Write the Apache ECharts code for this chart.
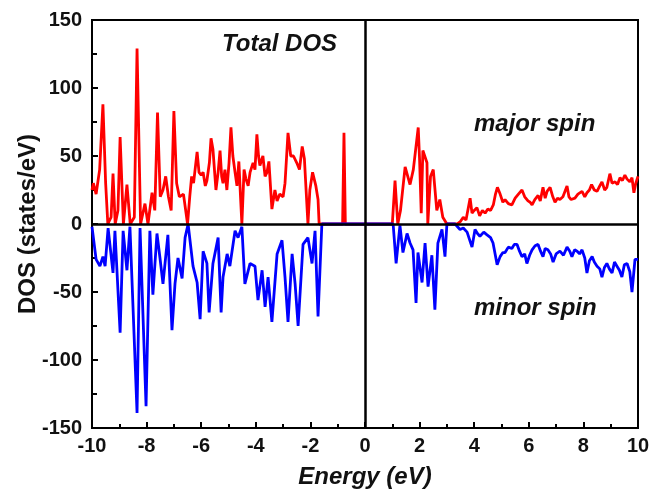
<!DOCTYPE html>
<html>
<head>
<meta charset="utf-8">
<script src="https://cdn.jsdelivr.net/npm/echarts@6/dist/echarts.min.js"></script>
<style>html,body{margin:0;padding:0;background:#fff;}#c{width:651px;height:492px;}</style>
</head>
<body>
<div id="c"></div>
<script>
// Major spin (red), energy in eV and DOS in states/eV
var majorE = [-10,-9.95,-9.85,-9.72,-9.6,-9.5,-9.42,-9.3,-9.23,-9.15,-9.05,-8.97,-8.85,-8.72,-8.6,-8.45,-8.35,-8.22,-8.06,-7.95,-7.8,-7.7,-7.6,-7.5,-7.4,-7.3,-7.2,-7.1,-7.0,-6.9,-6.8,-6.65,-6.5,-6.42,-6.35,-6.28,-6.15,-6.08,-6.0,-5.93,-5.85,-5.79,-5.7,-5.64,-5.57,-5.46,-5.38,-5.31,-5.25,-5.2,-5.13,-5.06,-4.98,-4.91,-4.84,-4.76,-4.69,-4.62,-4.56,-4.51,-4.43,-4.36,-4.28,-4.21,-4.1,-4.03,-3.96,-3.9,-3.85,-3.74,-3.66,-3.59,-3.52,-3.41,-3.3,-3.22,-3.12,-3.0,-2.93,-2.82,-2.72,-2.62,-2.5,-2.4,-2.3,-2.22,-2.09,-2.02,-1.92,-1.8,-1.72,-1.68,-0.82,-0.77,-0.72,1.0,1.1,1.2,1.3,1.47,1.65,1.77,1.95,2.0,2.06,2.12,2.27,2.3,2.4,2.5,2.63,2.74,2.85,3.0,3.37,3.5,3.6,3.7,3.85,3.92,4.0,4.1,4.2,4.3,4.4,4.5,4.6,4.7,4.78,4.85,4.95,5.05,5.13,5.25,5.38,5.5,5.62,5.75,5.85,5.97,6.05,6.12,6.22,6.34,6.42,6.52,6.6,6.67,6.78,6.88,6.96,7.05,7.14,7.25,7.4,7.47,7.55,7.69,7.8,7.95,8.05,8.13,8.22,8.3,8.4,8.5,8.6,8.68,8.78,8.86,8.97,9.05,9.16,9.25,9.34,9.43,9.52,9.6,9.7,9.78,9.85,9.92,10];
var majorDOS = [25,30,22,40,88,30,0,5,37,0,10,64,0,29,0,5,129,0,15,0,23,10,82,20,25,35,20,10,83,30,20,22,0,20,35,30,53,38,36,38,28,32,45,63,55,25,38,54,35,30,40,25,45,71,50,38,28,46,20,0,40,33,28,38,45,40,66,50,43,50,35,38,46,11,25,17,22,20,30,67,50,50,45,40,57,48,0,25,38,28,18,0,0,67,0,0,32,0,10,42,29,40,71,47,8,54,45,0,35,40,10,18,5,0,0,2,5,3,19,8,10,12,6,10,8,11,10,14,22,27,22,16,18,15,14,19,22,25,20,17,16,14,18,21,17,27,19,24,27,20,16,19,18,20,28,20,18,19,22,24,20,23,25,29,25,24,28,31,25,27,37,30,31,29,34,32,36,33,31,34,23,30,35];
// Minor spin (blue)
var minorE = [-10,-9.85,-9.71,-9.6,-9.52,-9.41,-9.23,-9.16,-8.97,-8.86,-8.72,-8.61,-8.35,-8.24,-8.02,-7.88,-7.77,-7.62,-7.51,-7.4,-7.22,-7.07,-6.96,-6.85,-6.7,-6.59,-6.48,-6.41,-6.3,-6.15,-6.04,-5.93,-5.79,-5.71,-5.57,-5.38,-5.27,-5.2,-5.05,-4.95,-4.76,-4.65,-4.51,-4.4,-4.21,-4.03,-3.92,-3.77,-3.66,-3.55,-3.41,-3.22,-3.04,-2.93,-2.82,-2.67,-2.56,-2.45,-2.27,-2.09,-1.94,-1.83,-1.72,-1.58,1.03,1.14,1.28,1.39,1.54,1.65,1.76,1.87,1.94,2.09,2.2,2.31,2.45,2.56,2.67,2.82,2.93,3.0,3.3,3.48,3.6,3.74,3.92,4.03,4.12,4.21,4.35,4.47,4.6,4.69,4.84,4.95,5.05,5.13,5.25,5.38,5.47,5.57,5.66,5.75,5.85,5.93,6.03,6.12,6.23,6.34,6.43,6.52,6.6,6.7,6.8,6.89,7.0,7.14,7.27,7.4,7.5,7.58,7.68,7.77,7.86,7.95,8.05,8.13,8.22,8.32,8.4,8.5,8.6,8.68,8.77,8.86,8.95,9.05,9.14,9.23,9.32,9.41,9.5,9.6,9.7,9.78,9.89,10];
var minorDOS = [-2,-26,-31,-24,-31,-3,-36,-5,-80,-5,-34,-2,-139,-3,-134,-5,-52,-7,-25,-44,-8,-78,-44,-25,-40,-10,0,-1,-31,-43,-70,-20,-29,-65,-29,-10,-65,-39,-22,-31,-5,-10,-2,-44,-29,-31,-56,-34,-61,-39,-72,-22,-12,-39,-72,-22,-44,-75,-15,-10,-29,-5,-68,0,0,-29,-1,-21,-7,-14,-19,-58,-21,-43,-14,-46,-23,-63,-14,-4,-24,0,0,-4,-3,-6,-17,-4,-7,-9,-6,-8,-10,-14,-30,-24,-21,-21,-17,-18,-15,-15,-20,-24,-22,-29,-23,-19,-16,-15,-20,-24,-18,-19,-22,-28,-22,-20,-23,-17,-20,-24,-19,-20,-22,-19,-25,-36,-27,-24,-28,-31,-33,-39,-32,-29,-33,-36,-28,-31,-34,-39,-30,-29,-35,-50,-26,-26];

var xTicks = [-10,-8,-6,-4,-2,0,2,4,6,8,10];
var yTicks = [-150,-100,-50,0,50,100,150];

function pairs(xs, ys){ var out=[]; for (var i=0;i<xs.length;i++) out.push([xs[i], ys[i]]); return out; }

var FONT = '"Liberation Sans", Arial, sans-serif';
var chart = echarts.init(document.getElementById('c'), null, {renderer:'canvas'});
chart.setOption({
  animation: false,
  backgroundColor: '#fff',
  grid: {left: 92, right: 13, top: 20, bottom: 64, show: true, borderColor: '#000', borderWidth: 2, backgroundColor: 'transparent', outerBoundsMode: 'none', containLabel: false},
  xAxis: {
    type: 'value', min: xTicks[0], max: xTicks[xTicks.length-1], interval: 2,
    name: 'Energy (eV)', nameLocation: 'middle', nameGap: 37, nameMoveOverlap: false,
    nameTextStyle: {fontFamily: FONT, fontSize: 24, fontWeight: 'bold', fontStyle: 'italic', color: '#111'},
    axisLine: {onZero: false, lineStyle: {color: '#000', width: 2}},
    axisTick: {inside: true, length: 6, lineStyle: {color: '#000', width: 2}},
    minorTick: {show: true, splitNumber: 2, length: 4, lineStyle: {color: '#000', width: 2}},
    axisLabel: {fontFamily: FONT, fontSize: 20, fontWeight: 'bold', color: '#111', margin: 8},
    splitLine: {show: false}
  },
  yAxis: {
    type: 'value', min: yTicks[0], max: yTicks[yTicks.length-1], interval: 50,
    name: 'DOS (states/eV)', nameLocation: 'middle', nameGap: 52, nameMoveOverlap: false,
    nameTextStyle: {fontFamily: FONT, fontSize: 24, fontWeight: 'bold', color: '#111'},
    axisLine: {onZero: false, lineStyle: {color: '#000', width: 2}},
    axisTick: {inside: true, length: 6, lineStyle: {color: '#000', width: 2}},
    minorTick: {show: true, splitNumber: 2, length: 5, lineStyle: {color: '#000', width: 2}},
    axisLabel: {fontFamily: FONT, fontSize: 20, fontWeight: 'bold', color: '#111', margin: 10},
    splitLine: {show: false}
  },
  series: [
    {type: 'line', name: 'zero', z: 1, data: [], silent: true,
     markLine: {silent: true, symbol: 'none', label: {show: false},
       lineStyle: {color: '#000', width: 2.5, type: 'solid'},
       data: [{yAxis: 0}, {xAxis: 0}]}},
    {type: 'line', name: 'major spin', z: 2, data: pairs(majorE, majorDOS), showSymbol: false,
     lineStyle: {color: '#ff0000', width: 2.8}, itemStyle: {color: '#ff0000'}},
    {type: 'line', name: 'minor spin', z: 3, data: pairs(minorE, minorDOS), showSymbol: false,
     lineStyle: {color: '#0000ff', width: 2.8}, itemStyle: {color: '#0000ff'}}
  ],
  graphic: [
    {type: 'text', left: 222, top: 32, style: {text: 'Total DOS', font: 'italic bold 24px ' + FONT, fill: '#111'}},
    {type: 'text', left: 474, top: 112, style: {text: 'major spin', font: 'italic bold 24px ' + FONT, fill: '#111'}},
    {type: 'text', left: 474, top: 296, style: {text: 'minor spin', font: 'italic bold 24px ' + FONT, fill: '#111'}}
  ]
});
</script>
</body>
</html>
